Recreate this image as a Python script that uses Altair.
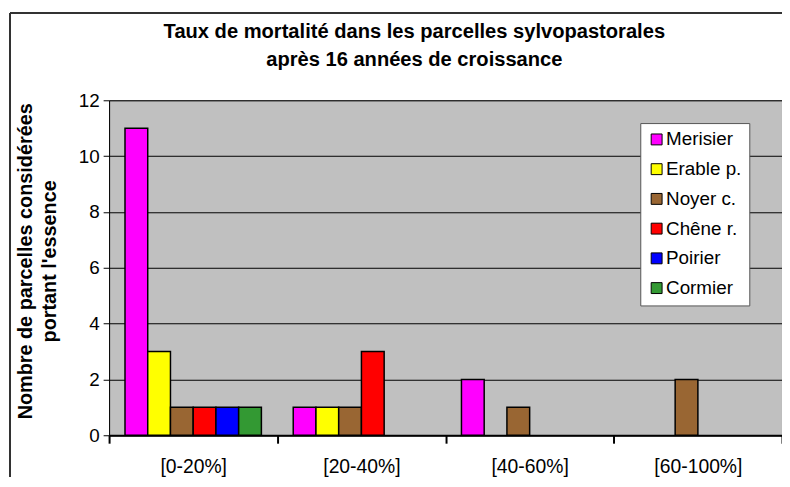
import altair as alt
import pandas as pd

categories = ["[0-20%]", "[20-40%]", "[40-60%]", "[60-100%]"]
species = ["Merisier", "Erable p.", "Noyer c.", "Chêne r.", "Poirier", "Cormier"]
colors = ["#FF00FF", "#FFFF00", "#996633", "#FF0000", "#0000FF", "#339933"]
values = {
    "Merisier": [11, 1, 2, 0],
    "Erable p.": [3, 1, 0, 0],
    "Noyer c.": [1, 1, 1, 2],
    "Chêne r.": [1, 3, 0, 0],
    "Poirier": [1, 0, 0, 0],
    "Cormier": [1, 0, 0, 0],
}
title_lines = ["Taux de mortalité dans les parcelles sylvopastorales", "après 16 années de croissance"]
y_title = ["Nombre de parcelles considérées", "portant l'essence"]

rows = []
for sp in species:
    for cat, v in zip(categories, values[sp]):
        rows.append({"classe": cat, "essence": sp, "n": v})
df = pd.DataFrame(rows)

FONT = "Liberation Sans"

bars = alt.Chart(df).transform_filter("datum.n > 0").mark_bar(
    stroke="black", strokeWidth=1.5
).encode(
    x=alt.X("classe:N", sort=categories,
            scale=alt.Scale(paddingInner=0, paddingOuter=0),
            axis=alt.Axis(title=None, labelAngle=0, labelFontSize=19.5, labelPadding=15,
                          tickBand="extent", tickSize=8, tickWidth=2, tickColor="black",
                          domainColor="black", domainWidth=2, labelColor="black",
                          labelFont=FONT, grid=False)),
    xOffset=alt.XOffset("essence:N", sort=species,
                        scale=alt.Scale(domain=species, paddingInner=0, paddingOuter=0.7)),
    y=alt.Y("n:Q", scale=alt.Scale(domain=[0, 12]),
            axis=alt.Axis(values=[0, 2, 4, 6, 8, 10, 12], title=y_title,
                          titleFontSize=20, titleFont=FONT, titleFontWeight="bold", titleColor="black",
                          titlePadding=19, titleLineHeight=24, titleY=162,
                          labelFontSize=19, labelFont=FONT, labelColor="black", labelPadding=4,
                          tickSize=6, tickColor="black", domainColor="black", domainWidth=1,
                          grid=True, gridColor="black", gridWidth=1)),
    color=alt.Color("essence:N", sort=species,
                    scale=alt.Scale(domain=species, range=colors),
                    legend=alt.Legend(title=None, orient="none", legendX=536, legendY=23,
                                      symbolType="square", symbolSize=121,
                                      symbolStrokeColor="black", symbolStrokeWidth=1,
                                      labelFontSize=19, labelFont=FONT, labelColor="black",
                                      rowPadding=10, padding=7, fillColor="white",
                                      strokeColor="#555555", labelOffset=0)),
)

title_layers = []
for line, ypos in zip(title_lines, [-63, -35]):
    title_layers.append(
        alt.Chart(df).transform_filter("datum.classe == '[0-20%]' && datum.essence == 'Merisier'")
        .mark_text(font=FONT, fontSize=20.3, fontWeight="bold", color="black", align="center",
                   baseline="alphabetic", clip=False, text=line)
        .encode(x=alt.value(308), y=alt.value(ypos))
    )

frame = alt.Chart(df).mark_rule(color="#333333", strokeWidth=1.5, clip=False).encode(
    x=alt.value(-100), x2=alt.value(-100), y=alt.value(-88), y2=alt.value(400)
)
frame_top = alt.Chart(df).mark_rule(color="#333333", strokeWidth=1.5, clip=False).encode(
    x=alt.value(-100), x2=alt.value(700), y=alt.value(-88), y2=alt.value(-88)
)

chart = alt.layer(bars, *title_layers, frame, frame_top).properties(
    width=679, height=338,
    background="white",
    autosize=alt.AutoSizeParams(type="none"),
    padding={"left": 102, "top": 91, "right": 0, "bottom": 40},
).configure_view(fill="#C0C0C0", stroke="#808080", strokeWidth=1)

chart.save("out.html", embed_options={"renderer": "svg", "actions": False})
